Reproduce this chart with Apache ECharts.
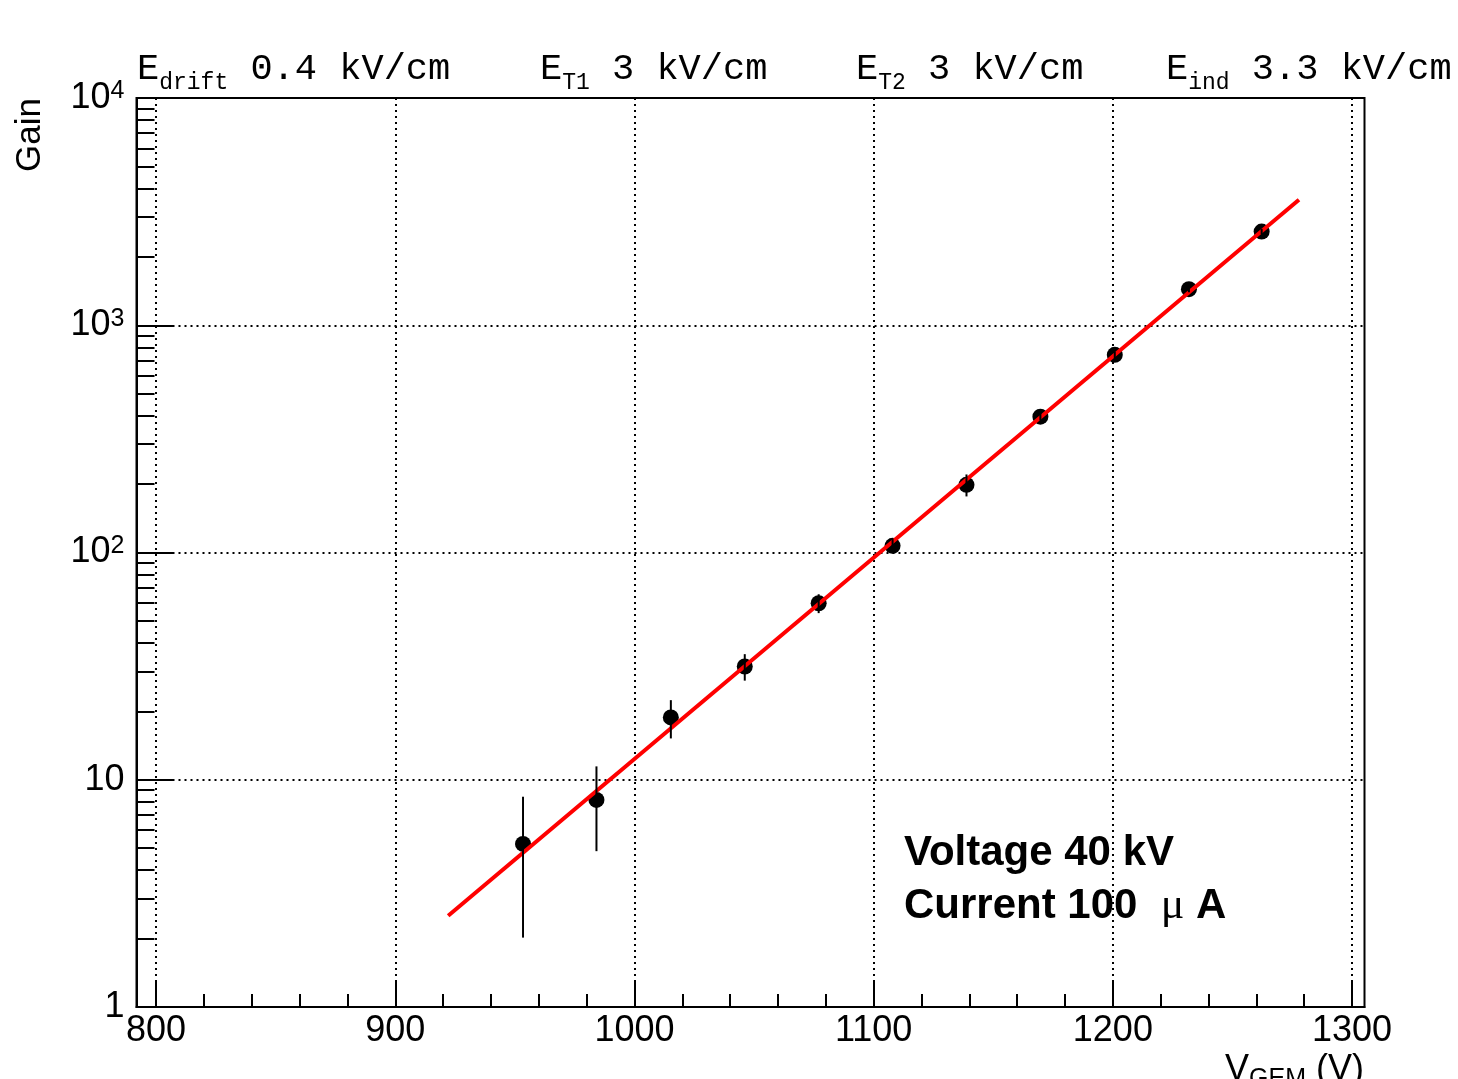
<!DOCTYPE html>
<html><head><meta charset="utf-8">
<script src="https://cdn.jsdelivr.net/npm/echarts@6/dist/echarts.min.js"></script>
<style>html,body{margin:0;padding:0;background:#fff}#c{width:1458px;height:1079px}</style>
</head><body><div id="c"></div>
<script>
// ---- data ----
const voltage = [953.4, 984.1, 1015.2, 1046.1, 1077.0, 1107.9, 1138.8, 1169.7, 1200.8, 1231.8, 1262.2];
const gain    = [5.22, 8.15, 18.8, 31.5, 59.8, 107, 198.5, 396, 741, 1442, 2584];
const gainErr = [3.2, 3.3, 3.6, 4.2, 5.7, 7.7, 22, 15, 25, 45, 70];
const fitVoltage = [922.1, 1277.8];
const fitGain    = [2.52, 3565];
const xRange = [791.8, 1305.2];
const yRange = [1, 10000];
const xMajorTicks = [800, 900, 1000, 1100, 1200, 1300];
const xMinorTicks = [820, 840, 860, 880, 920, 940, 960, 980, 1020, 1040, 1060, 1080,
                     1120, 1140, 1160, 1180, 1220, 1240, 1260, 1280];
const yTickValues = [1, 10, 100, 1000, 10000];
const yTickBase   = ['1', '10', '10', '10', '10'];
const yTickExp    = ['', '', '2', '3', '4'];
const yMinorTicks = [2, 3, 4, 5, 6, 7, 8, 9, 20, 30, 40, 50, 60, 70, 80, 90,
                     200, 300, 400, 500, 600, 700, 800, 900, 2000, 3000, 4000, 5000, 6000, 7000, 8000, 9000];
const fieldLabels = [
  {sub: 'drift', text: ' 0.4 kV/cm', x: 137},
  {sub: 'T1', text: ' 3 kV/cm', x: 540},
  {sub: 'T2', text: ' 3 kV/cm', x: 856},
  {sub: 'ind', text: ' 3.3 kV/cm', x: 1166}
];

const SANS = 'Liberation Sans, Arial, Helvetica, sans-serif';
const MONO = 'Liberation Mono, Courier New, monospace';
const dotted = {color: '#000', width: 2, type: [2, 4]};

const chart = echarts.init(document.getElementById('c'), null, {renderer: 'canvas'});

const graphics = [];
fieldLabels.forEach(f => {
  graphics.push({
    type: 'text', x: f.x, y: 44, z: 10,
    style: {
      text: '{m|E}{s|' + f.sub + '}{m|' + f.text + '}',
      fill: '#000',
      rich: {
        m: {fontFamily: MONO, fontSize: 37, lineHeight: 50, fill: '#000'},
        s: {fontFamily: MONO, fontSize: 23, lineHeight: 23, verticalAlign: 'bottom', fill: '#000'}
      }
    }
  });
});
graphics.push({
  type: 'text', x: 30, y: 98, rotation: Math.PI / 2, z: 10,
  style: {text: 'Gain', fontFamily: SANS, fontSize: 35, fill: '#000', align: 'right', verticalAlign: 'middle'}
});
graphics.push({
  type: 'text', x: 1364, y: 1048, z: 10,
  style: {
    text: '{m|V}{s|GEM}{m| (V)}', align: 'right', verticalAlign: 'top', fill: '#000',
    rich: {
      m: {fontFamily: SANS, fontSize: 36, lineHeight: 44, fill: '#000'},
      s: {fontFamily: SANS, fontSize: 25, lineHeight: 25, verticalAlign: 'bottom', fill: '#000'}
    }
  }
});
graphics.push({
  type: 'text', x: 904, y: 832, z: 10,
  style: {text: 'Voltage 40 kV', fontFamily: SANS, fontWeight: 'bold', fontSize: 42, lineHeight: 42, fill: '#000', verticalAlign: 'top'}
});
graphics.push({
  type: 'text', x: 904, y: 885, z: 10,
  style: {
    text: '{b|Current 100  }{u|\u03bc}{b| A}', verticalAlign: 'top', fill: '#000',
    rich: {
      b: {fontFamily: SANS, fontWeight: 'bold', fontSize: 42, lineHeight: 42, fill: '#000'},
      u: {fontFamily: 'Liberation Serif, Times New Roman, serif', fontSize: 44, lineHeight: 42, fill: '#000'}
    }
  }
});

chart.setOption({
  backgroundColor: '#fff',
  animation: false,
  grid: {left: 136.5, right: 93.5, top: 98, bottom: 72, show: true, borderColor: '#000', borderWidth: 2,
         backgroundColor: 'transparent', outerBoundsMode: 'none', containLabel: false},
  xAxis: [
    {
      type: 'value', min: xRange[0], max: xRange[1], position: 'bottom', splitNumber: 5,
      axisLine: {show: true, lineStyle: {color: '#000', width: 2}},
      axisTick: {show: true, inside: true, length: 27, customValues: xMajorTicks, lineStyle: {color: '#000', width: 2}},
      axisLabel: {show: true, customValues: xMajorTicks, margin: 6, color: '#000', fontFamily: SANS, fontSize: 36,
                  formatter: v => String(v)},
      splitLine: {show: true, lineStyle: dotted},
      minorTick: {show: false}
    },
    {
      type: 'value', min: xRange[0], max: xRange[1], position: 'bottom',
      axisLine: {show: false},
      axisTick: {show: true, inside: true, length: 13, customValues: xMinorTicks, lineStyle: {color: '#000', width: 2}},
      axisLabel: {show: false},
      splitLine: {show: false}
    }
  ],
  yAxis: [
    {
      type: 'log', logBase: 10, min: yRange[0], max: yRange[1], position: 'left',
      axisLine: {show: true, lineStyle: {color: '#000', width: 2}},
      axisTick: {show: true, inside: true, length: 37, lineStyle: {color: '#000', width: 2}},
      axisLabel: {
        show: true, margin: 12, color: '#000', fontFamily: SANS, fontSize: 36,
        formatter: v => {
          const i = yTickValues.findIndex(t => Math.abs(v - t) / t < 1e-6);
          if (i < 0) return '';
          return '{b|' + yTickBase[i] + '}' + (yTickExp[i] ? '{s|' + yTickExp[i] + '}' : '');
        },
        rich: {
          b: {fontFamily: SANS, fontSize: 36, lineHeight: 38, color: '#000'},
          s: {fontFamily: SANS, fontSize: 25, lineHeight: 25, verticalAlign: 'top', color: '#000'}
        }
      },
      splitLine: {show: true, lineStyle: dotted}
    },
    {
      type: 'value', min: Math.log10(yRange[0]), max: Math.log10(yRange[1]), position: 'left',
      axisLine: {show: false},
      axisTick: {show: true, inside: true, length: 18, customValues: yMinorTicks.map(v => Math.log10(v)),
                 lineStyle: {color: '#000', width: 2}},
      axisLabel: {show: false},
      splitLine: {show: false}
    }
  ],
  series: [
    {
      type: 'scatter', xAxisIndex: 0, yAxisIndex: 0, z: 2,
      data: voltage.map((v, i) => [v, gain[i]]),
      symbol: 'circle', symbolSize: 16,
      itemStyle: {color: '#000', opacity: 1},
      silent: true
    },
    {
      type: 'line', xAxisIndex: 0, yAxisIndex: 0, z: 3,
      data: fitVoltage.map((v, i) => [v, fitGain[i]]),
      showSymbol: false, symbol: 'none',
      lineStyle: {color: '#ff0000', width: 4},
      silent: true
    },
    {
      type: 'custom', xAxisIndex: 0, yAxisIndex: 0, z: 4,
      data: voltage.map((v, i) => [v, gain[i] - gainErr[i], gain[i] + gainErr[i]]),
      encode: {x: 0, y: [1, 2]},
      renderItem: (params, api) => {
        const lo = api.coord([api.value(0), api.value(1)]);
        const hi = api.coord([api.value(0), api.value(2)]);
        return {type: 'line', shape: {x1: lo[0], y1: lo[1], x2: hi[0], y2: hi[1]},
                style: {stroke: '#000', lineWidth: 2}};
      },
      silent: true
    }
  ],
  graphic: graphics
});
</script>
</body></html>
